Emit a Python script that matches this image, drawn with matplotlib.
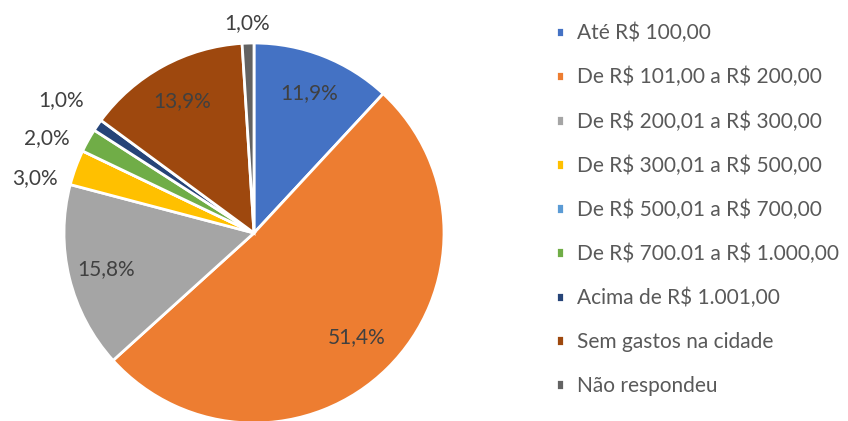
import numpy as np
import matplotlib.pyplot as plt

plt.rcParams['font.family'] = ['Lato', 'DejaVu Sans']

categories = ['Até R$ 100,00', 'De R$ 101,00 a R$ 200,00', 'De R$ 200,01 a R$ 300,00',
              'De R$ 300,01 a R$ 500,00', 'De R$ 500,01 a R$ 700,00',
              'De R$ 700.01 a R$ 1.000,00', 'Acima de R$ 1.001,00',
              'Sem gastos na cidade', 'Não respondeu']
values = [11.9, 51.4, 15.8, 3.0, 0.0, 2.0, 1.0, 13.9, 1.0]
colors = ['#4472C4', '#ED7D31', '#A5A5A5', '#FFC000', '#5B9BD5',
          '#70AD47', '#264478', '#9E480E', '#636363']

# label placement (radius fraction, extra angle in degrees) like Excel's "best fit"
label_dist = [0.79, 0.77, 0.80, 1.19, 0, 1.20, 1.23, 0.79, 1.105]
label_shift = [0, 0, 0, 6, 0, 4.5, 0, 0, 0]

W, H = 848, 421
fig = plt.figure(figsize=(W / 100, H / 100), dpi=100)
r_px = 190
cx, cy = 254, 233
ax = fig.add_axes([(cx - r_px) / W, (H - cy - r_px) / H, 2 * r_px / W, 2 * r_px / H])

wedges, _ = ax.pie(values, colors=colors, startangle=90, counterclock=False,
                   wedgeprops=dict(edgecolor='white', linewidth=2))
ax.set_xlim(-1, 1)
ax.set_ylim(-1, 1)

# data labels
total = sum(values)
cum = 0
for v, d, s in zip(values, label_dist, label_shift):
    mid = cum + v / 2
    cum += v
    if v <= 0:
        continue
    ang = np.deg2rad(90 - 360 * mid / total + s)
    ax.text(d * np.cos(ang), d * np.sin(ang), ('%.1f%%' % v).replace('.', ','),
            ha='center', va='center', fontsize=15, color='#404040', clip_on=False)

leg = fig.legend(wedges, [c.replace('$', r'\$') for c in categories], loc='upper left',
                 bbox_to_anchor=(556 / W, 1 - 23 / H), borderaxespad=0, borderpad=0,
                 frameon=False, fontsize=15, handlelength=0.4, handleheight=0.4,
                 handletextpad=0.6, labelspacing=1.14)
for t in leg.get_texts():
    t.set_color('#595959')

fig.savefig('out.png', dpi=100)
